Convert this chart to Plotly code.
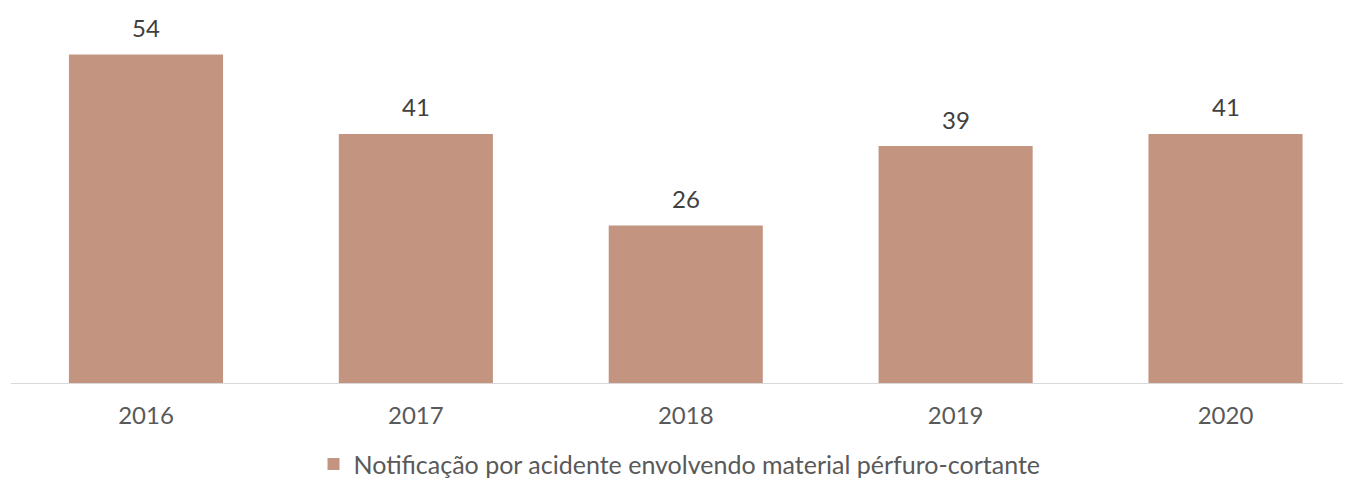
import plotly.graph_objects as go

years = ["2016", "2017", "2018", "2019", "2020"]
values = [54, 41, 26, 39, 41]
series_name = "Notificação por acidente envolvendo material pérfuro-cortante"

# page body has an 8px default margin, so the figure is sized to fit the window
W, H = 1343, 471
fig = go.Figure()
fig.add_trace(go.Bar(
    x=years, y=values, name=series_name,
    marker=dict(color="#C39580", line=dict(width=0)),
    width=0.571,
    showlegend=True,
))

for i, v in enumerate(values):
    fig.add_annotation(x=i, y=v, text=str(v), showarrow=False,
                       yanchor="middle", yshift=27,
                       font=dict(size=24, color="#404040", family="Lato"))

fig.add_shape(type="line", xref="paper", yref="y", x0=3 / W, x1=1, y0=0, y1=0,
              line=dict(color="#D9D9D9", width=2), layer="above")

fig.update_layout(
    width=W, height=H,
    margin=dict(l=0, r=0, t=10, b=95, autoexpand=False),
    paper_bgcolor="white", plot_bgcolor="white",
    font=dict(family="Lato", color="#595959"),
    showlegend=True,
    legend=dict(orientation="h", x=0.5, xanchor="center", y=-0.219, yanchor="middle",
                font=dict(size=25, color="#595959"), itemwidth=30),
    xaxis=dict(type="category", range=[-0.5113, 4.465], showline=False,
               ticks="", tickfont=dict(size=24, color="#595959"),
               ticklabelstandoff=15, showgrid=False, zeroline=False),
    yaxis=dict(range=[0, 60], visible=False, showgrid=False, zeroline=False),
)

fig.write_html("out.html")
